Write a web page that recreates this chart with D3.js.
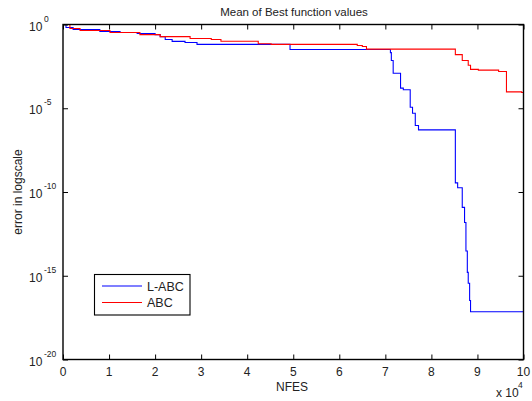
<!DOCTYPE html>
<html><head><meta charset="utf-8">
<script src="https://cdn.jsdelivr.net/npm/d3@7"></script>
<style>
body{margin:0;background:#fff;}
text{font-family:"Liberation Sans",Arial,Helvetica,sans-serif;fill:#222;}
</style></head>
<body><svg id="c" width="532" height="401"></svg>
<script>
// NFES in units of 10^4
const lAbcX = [0,0.065,0.22,0.8,1.24,1.61,2.0,2.11,2.22,2.37,2.65,2.91,4.93,7.11,7.13,7.17,7.33,7.39,7.54,7.59,7.65,7.72,8.52,8.57,8.67,8.72,8.75,8.78,8.80,8.83,8.85,10];
const lAbcY = [1,0.66,0.5,0.38,0.33,0.29,0.25,0.19,0.126,0.098,0.085,0.065,0.032,0.021,0.0071,0.00123,1.6e-4,1.26e-4,1.15e-5,5.0e-6,9.3e-7,5.1e-7,3.5e-10,1.8e-10,1.2e-11,1.5e-12,3.0e-14,1.6e-15,3.6e-16,3.3e-17,7.1e-18,7.1e-18];
const abcX = [0,0.15,0.37,1.02,1.67,2.11,2.76,3.22,3.43,4.24,4.52,6.39,6.50,6.59,8.52,8.67,8.80,8.85,9.02,9.46,9.63,9.96,10];
const abcY = [1,0.58,0.44,0.33,0.25,0.19,0.145,0.126,0.10,0.071,0.065,0.056,0.049,0.034,0.016,0.0071,0.0037,0.0021,0.0019,0.00155,9.5e-5,8.7e-5,8.7e-5];
const xTicks = [0,1,2,3,4,5,6,7,8,9,10];
const yTickExps = [0,-5,-10,-15,-20];
const seriesNames = ["L-ABC","ABC"];
const seriesColors = ["#0000ff","#ff0000"];

const svg = d3.select("#c");
const L=63, R=523.5, T=24.5, B=359.5;
const x = d3.scaleLinear().domain([0,10]).range([L,R]);
const y = d3.scaleLog().domain([1e-20,1]).range([B,T]);
const yTicks = yTickExps.map(e=>Math.pow(10,e));

svg.append("clipPath").attr("id","clip").append("rect").attr("x",L).attr("y",T).attr("width",R-L).attr("height",B-T);

const line = d3.line().curve(d3.curveStepAfter).x(d=>x(d[0])).y(d=>y(d[1]));
const series = [d3.zip(lAbcX,lAbcY), d3.zip(abcX,abcY)];
series.forEach((s,i)=>{
  svg.append("path").attr("d",line(s)).attr("fill","none").attr("stroke",seriesColors[i]).attr("stroke-width",1.1).attr("clip-path","url(#clip)");
});

// axes
const styleAx = g=>{g.select(".domain").remove();g.selectAll("line").attr("stroke","#000");g.selectAll("text").remove();};
svg.append("g").attr("transform",`translate(0,${B})`).call(d3.axisBottom(x).tickValues(xTicks).tickSize(-5)).call(styleAx);
svg.append("g").attr("transform",`translate(0,${T})`).call(d3.axisTop(x).tickValues(xTicks).tickSize(-5)).call(styleAx);
svg.append("g").attr("transform",`translate(${L},0)`).call(d3.axisLeft(y).tickValues(yTicks).tickSize(-5)).call(styleAx);
svg.append("g").attr("transform",`translate(${R},0)`).call(d3.axisRight(y).tickValues(yTicks).tickSize(-5)).call(styleAx);
svg.append("rect").attr("x",L).attr("y",T).attr("width",R-L).attr("height",B-T).attr("fill","none").attr("stroke","#000").attr("stroke-width",1.4);

// x tick labels
svg.selectAll(".xl").data(xTicks).enter().append("text").attr("x",d=>x(d)).attr("y",376).attr("text-anchor","middle").attr("font-size",12).text(d=>d);
// y tick labels
yTickExps.forEach(e=>{
  const yy = y(Math.pow(10,e));
  svg.append("text").attr("x",29).attr("y",yy+6).attr("font-size",12).text("10");
  svg.append("text").attr("x",44).attr("y",yy-3).attr("font-size",8.5).text(e);
});
svg.append("text").attr("x",292).attr("y",391).attr("text-anchor","middle").attr("font-size",12).text("NFES");
svg.append("text").attr("x",496).attr("y",397).attr("font-size",12).text("x 10");
svg.append("text").attr("x",518).attr("y",388).attr("font-size",8.5).text("4");
svg.append("text").attr("transform","translate(22,192) rotate(-90)").attr("text-anchor","middle").attr("font-size",12).text("error in logscale");
svg.append("text").attr("x",294).attr("y",16).attr("text-anchor","middle").attr("font-size",11.5).text("Mean of Best function values");

// legend
const lg = svg.append("g");
lg.append("rect").attr("x",94.5).attr("y",274.5).attr("width",95.5).attr("height",40.5).attr("fill","#fff").attr("stroke","#000").attr("stroke-width",1.1);
seriesNames.forEach((n,i)=>{
  const ly = 286 + i*16.5;
  lg.append("line").attr("x1",102).attr("x2",142).attr("y1",ly).attr("y2",ly).attr("stroke",seriesColors[i]).attr("stroke-width",1.1);
  lg.append("text").attr("x",147).attr("y",ly+4.5).attr("font-size",12.5).text(n);
});
</script></body></html>
